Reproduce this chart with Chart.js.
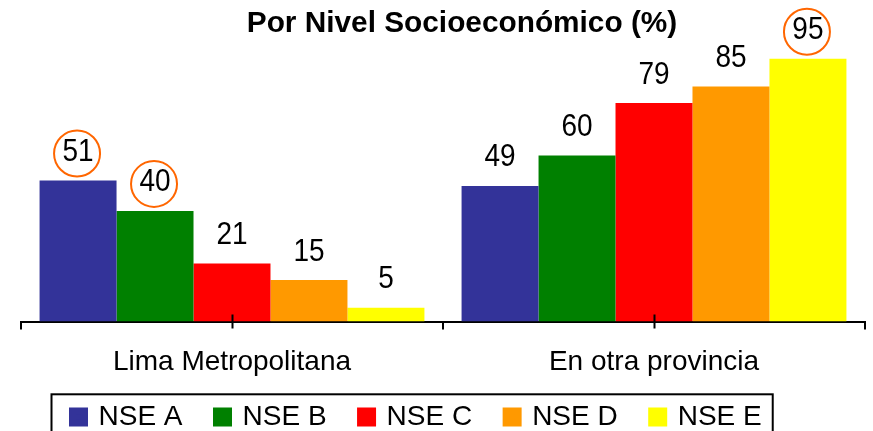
<!DOCTYPE html>
<html>
<head>
<meta charset="utf-8">
<script src="https://cdn.jsdelivr.net/npm/chart.js@4/dist/chart.umd.min.js"></script>
<style>
  html, body { margin: 0; padding: 0; background: #fff; }
  #wrap { width: 873px; height: 431px; }
</style>
</head>
<body>
<div id="wrap"><canvas id="c" width="873" height="431"></canvas></div>
<script>
// ---- data ----
const categories = ['Lima Metropolitana', 'En otra provincia'];
const seriesNames = ['NSE A', 'NSE B', 'NSE C', 'NSE D', 'NSE E'];
const nseA = [51, 49];
const nseB = [40, 60];
const nseC = [21, 79];
const nseD = [15, 85];
const nseE = [5, 95];
const seriesColors = ['#333399', '#008000', '#FF0000', '#FF9900', '#FFFF00'];
// highlighted (circled) values: [series index, category index]
const circled = [[0, 0], [1, 0], [4, 1]];
const titleText = 'Por Nivel Socioeconómico (%)';

const allSeries = [nseA, nseB, nseC, nseD, nseE];
const FONT = "'Liberation Sans', Arial, sans-serif";
Chart.defaults.font.family = FONT;
Chart.defaults.color = '#000';

const extrasPlugin = {
  id: 'extras',
  afterLayout(chart) {
    const lg = chart.legend;
    if (lg) {
      const dx = 17.5, dy = -26.1;
      lg.left += dx; lg.right += dx;
      lg.top += dy; lg.bottom += dy;
    }
    const tt = chart.titleBlock;
    if (tt) {
      tt.left += 19; tt.right += 19;
    }
  },
  afterDatasetsDraw(chart) {
    const ctx = chart.ctx;
    ctx.save();
    ctx.font = '28px ' + FONT;
    ctx.fillStyle = '#000';
    ctx.textAlign = 'center';
    ctx.textBaseline = 'middle';
    chart.data.datasets.forEach((ds, di) => {
      const meta = chart.getDatasetMeta(di);
      meta.data.forEach((bar, i) => {
        ctx.save();
        ctx.translate(bar.x, bar.y - 28);
        ctx.scale(1, 1.1);
        ctx.fillText(String(ds.data[i]), 0, 0);
        ctx.restore();
      });
    });
    ctx.strokeStyle = '#FF6600';
    ctx.lineWidth = 2;
    circled.forEach(([di, i]) => {
      const bar = chart.getDatasetMeta(di).data[i];
      ctx.beginPath();
      ctx.arc(bar.x - 1, bar.y - 27, 23, 0, Math.PI * 2);
      ctx.stroke();
    });
    ctx.restore();
  },
  afterDraw(chart) {
    const ctx = chart.ctx;
    const xs = chart.scales.x;
    ctx.save();
    // crossing ticks at category centres
    ctx.strokeStyle = '#000';
    ctx.lineWidth = 2;
    const yb = chart.chartArea.bottom;
    categories.forEach((c, i) => {
      const px = Math.round(xs.getPixelForValue(i)) + 0.5;
      ctx.beginPath();
      ctx.moveTo(px, yb - 7);
      ctx.lineTo(px, yb + 7);
      ctx.stroke();
    });
    // legend frame
    const hb = chart.legend.legendHitBoxes;
    if (hb && hb.length) {
      const first = hb[0], last = hb[hb.length - 1];
      const l = first.left - 21;
      const r = last.left + last.width + 11;
      const t = first.top - 8.7;
      ctx.lineWidth = 2;
      ctx.strokeRect(l, t, r - l, chart.height + 10 - t);
    }
    ctx.restore();
  }
};

new Chart(document.getElementById('c'), {
  type: 'bar',
  data: {
    labels: categories,
    datasets: seriesNames.map((n, k) => ({
      label: n,
      data: allSeries[k],
      backgroundColor: seriesColors[k],
      borderWidth: 0,
      categoryPercentage: 0.912,
      barPercentage: 1.0
    }))
  },
  options: {
    responsive: false,
    animation: false,
    layout: { padding: { left: 21, right: 8, top: 0, bottom: -36.1 } },
    scales: {
      x: {
        grid: { offset: true, drawOnChartArea: false, color: '#000', lineWidth: 2, tickLength: 8 },
        border: { display: true, color: '#000', width: 2 },
        ticks: { font: { size: 28, family: FONT }, color: '#000', padding: 16, maxRotation: 0 }
      },
      y: { display: false, min: 0, max: 100 }
    },
    plugins: {
      title: {
        display: true,
        text: titleText,
        color: '#000',
        font: { size: 29.8, weight: 'bold', family: FONT },
        padding: { top: 5.6, bottom: 3.6 }
      },
      legend: {
        display: true,
        position: 'bottom',
        align: 'start',
        labels: {
          font: { size: 28, family: FONT },
          color: '#000',
          boxWidth: 12,
          boxHeight: 12,
          padding: 34,
          generateLabels(chart) {
            const items = Chart.defaults.plugins.legend.labels.generateLabels(chart);
            items.forEach(it => { it.lineWidth = 7; it.strokeStyle = it.fillStyle; });
            return items;
          }
        }
      },
      tooltip: { enabled: false }
    }
  },
  plugins: [extrasPlugin]
});
</script>
</body>
</html>
